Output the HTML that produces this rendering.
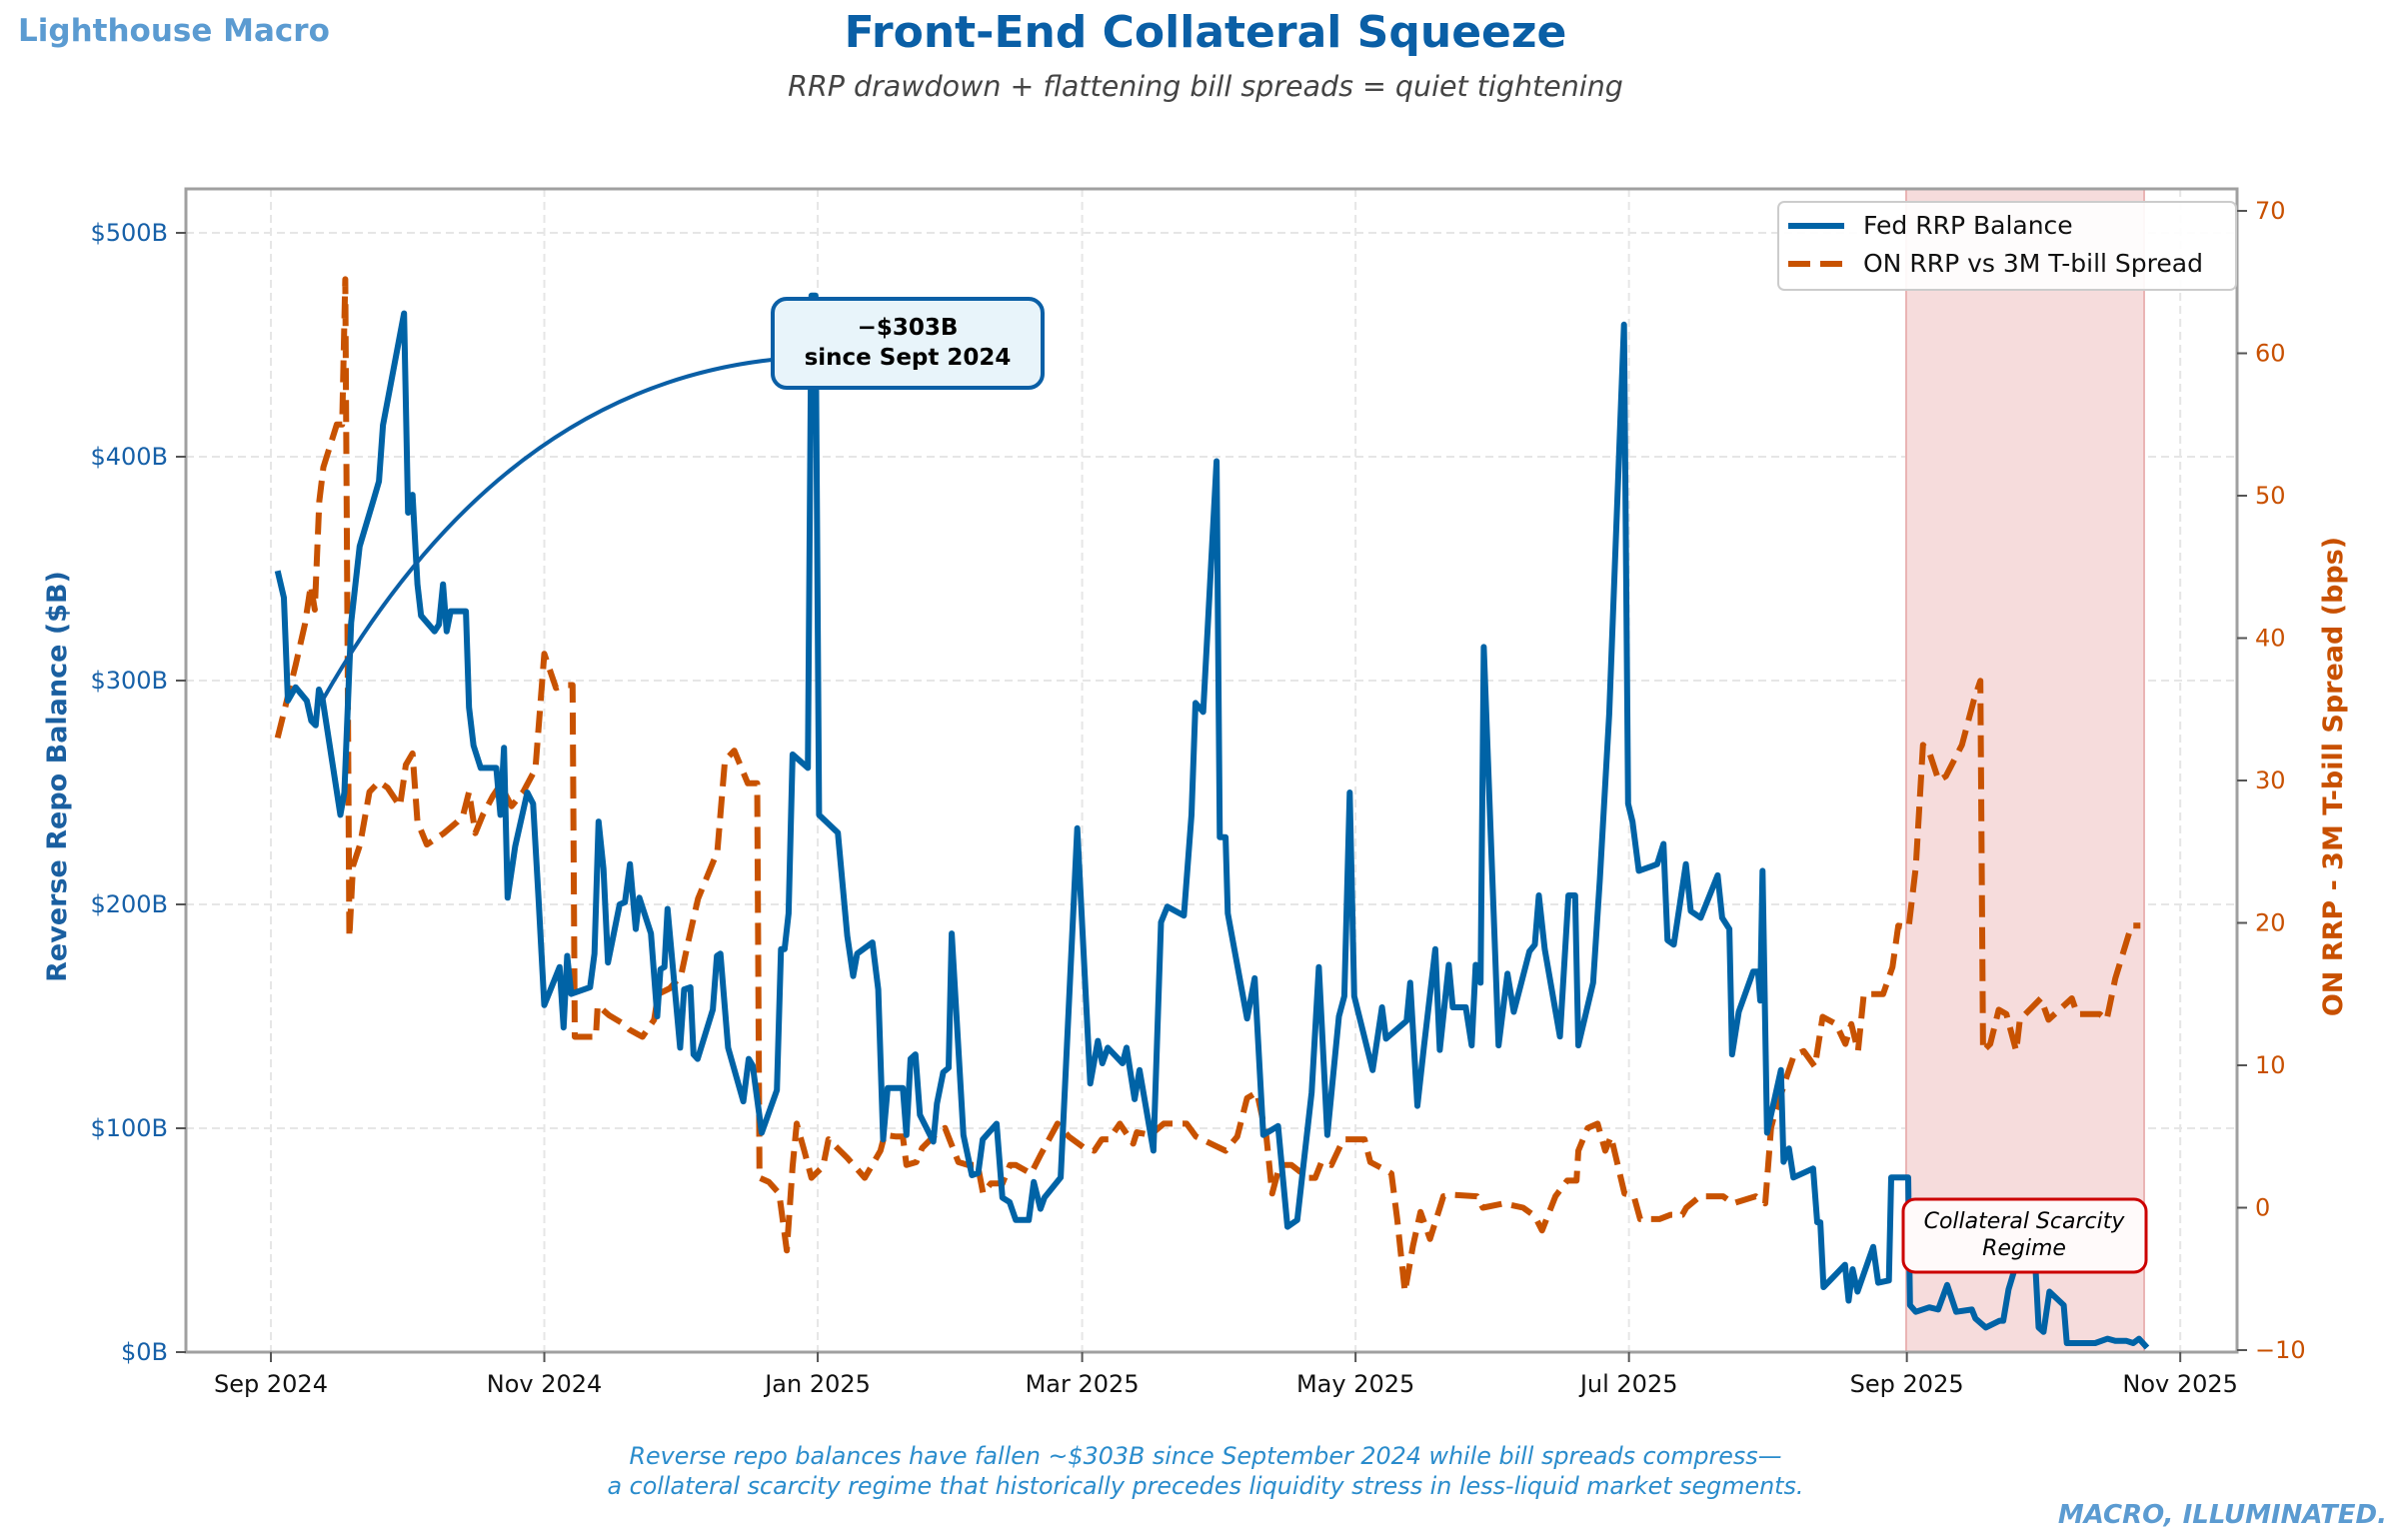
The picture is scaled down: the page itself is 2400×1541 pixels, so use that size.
<!DOCTYPE html>
<html>
<head>
<meta charset="utf-8">
<style>
html,body{margin:0;padding:0;background:#fff;}
svg{display:block;font-family:"DejaVu Sans","Liberation Sans",sans-serif;}
</style>
</head>
<body>
<svg id="chart" width="2400" height="1541" viewBox="0 0 2400 1541" xmlns="http://www.w3.org/2000/svg">
  <rect x="0" y="0" width="2400" height="1541" fill="#ffffff"/>
  <text x="18" y="41" font-size="31" font-weight="bold" fill="#5b9bd1">Lighthouse Macro</text>
  <text x="1206" y="47" font-size="44" font-weight="bold" fill="#0a5fa6" text-anchor="middle">Front-End Collateral Squeeze</text>
  <text x="1206" y="96" font-size="28.5" font-style="italic" fill="#444444" text-anchor="middle">RRP drawdown + flattening bill spreads = quiet tightening</text>

  <g id="grid"></g>
  <rect x="1907" y="189" width="238" height="1164" fill="#f6dcdc" stroke="#eab4b4" stroke-width="2"/>
  <g id="series"></g>

  <rect x="186" y="189" width="2052" height="1164" fill="none" stroke="#a0a0a0" stroke-width="3"/>
  <g id="axes"></g>

  <text transform="translate(66,777) rotate(-90)" font-size="27" font-weight="bold" fill="#1a5fa0" text-anchor="middle">Reverse Repo Balance ($B)</text>
  <text transform="translate(2343,777) rotate(-90)" font-size="27" font-weight="bold" fill="#c85000" text-anchor="middle">ON RRP - 3M T-bill Spread (bps)</text>

  <path d="M 772 360 Q 500 390 323 700" fill="none" stroke="#0a5fa6" stroke-width="4"/>
  <g>
    <rect x="773" y="299" width="270" height="89" rx="14" fill="#e8f4fa" stroke="#0a5fa6" stroke-width="4"/>
    <text x="908" y="335" font-size="23" font-weight="bold" fill="#000" text-anchor="middle">−$303B</text>
    <text x="908" y="365" font-size="23" font-weight="bold" fill="#000" text-anchor="middle">since Sept 2024</text>
  </g>
  <g>
    <rect x="1904" y="1200" width="243" height="73" rx="12" fill="#fffafa" stroke="#cc0000" stroke-width="3"/>
    <text x="2025" y="1229" font-size="22" font-style="italic" fill="#000" text-anchor="middle">Collateral Scarcity</text>
    <text x="2025" y="1256" font-size="22" font-style="italic" fill="#000" text-anchor="middle">Regime</text>
  </g>

  <g>
    <rect x="1779" y="202" width="458" height="88" rx="6" fill="#ffffff" fill-opacity="0.9" stroke="#cccccc" stroke-width="2"/>
    <line x1="1789" y1="226" x2="1845" y2="226" stroke="#0063a6" stroke-width="6"/>
    <text x="1864" y="234" font-size="25" fill="#111">Fed RRP Balance</text>
    <line x1="1789" y1="264" x2="1845" y2="264" stroke="#c85200" stroke-width="6" stroke-dasharray="22,10"/>
    <text x="1864" y="272" font-size="25" fill="#111">ON RRP vs 3M T-bill Spread</text>
  </g>

  <text x="1206" y="1465" font-size="23.8" font-style="italic" fill="#2a8ccc" text-anchor="middle">Reverse repo balances have fallen ~$303B since September 2024 while bill spreads compress—</text>
  <text x="1206" y="1495" font-size="23.8" font-style="italic" fill="#2a8ccc" text-anchor="middle">a collateral scarcity regime that historically precedes liquidity stress in less-liquid market segments.</text>
  <text x="2388" y="1524" font-size="26" font-weight="bold" font-style="italic" fill="#5b9bd1" text-anchor="end">MACRO, ILLUMINATED.</text>
</svg>
<script>
// Days since 2024-09-01
const rrpDays = [1.5,2.9,3.8,5.5,8,9,10,10.7,11.5,15.5,16.4,17.9,19.8,22.8,24.1,25,29.7,30.6,31.6,32.7,33.5,36.5,37.5,38.4,39.2,40.1,43.5,44.2,45.2,46.8,50.3,51.2,52,52.8,54.5,57.2,58.5,59.7,61,64.4,65.3,66.1,67,71.2,72.2,73.1,74.2,75.2,77.8,79,80.1,81.4,82.2,84.8,86.2,86.9,87.8,88.5,91.3,92.2,93.6,94.3,95.2,98.6,99.5,100.3,102,105.4,106.6,107.5,109.5,112.9,113.8,114.6,115.5,116.4,119.8,120.6,121.5,122.3,126.5,128.6,129.9,130.8,134.2,135.5,136.6,137.6,141,141.8,142.7,143.8,144.8,147.8,148.6,150,151.2,151.9,154.5,156.4,157.8,158.8,161.9,163.2,164.8,166.2,169.1,170.2,171.7,172.6,176.2,177.3,179.9,182.8,184.5,185.5,186.7,190,190.9,192.7,193.8,196.9,198.6,200,203.7,205.4,206.3,208,211,211.7,213,213.5,217.8,219.5,221.4,224.7,226.8,229,232.2,233.8,235.7,238.3,239.5,240.7,241.7,245.8,247.9,248.8,253.4,254.2,255.8,257.3,259.8,260.8,262.8,263.7,266.6,267.9,268.8,269.9,270.6,273.9,275.9,277.3,280.8,282,282.9,284.2,287.6,289.5,291,291.7,295,296.5,298.6,301.9,302.8,303.8,305.2,308,309.3,310.7,311.6,313,315.7,316.8,319,322.8,323.8,325.4,326,327.5,330.7,331.8,332.3,332.8,333.8,336.9,337.5,338.7,339.7,344.1,345,345.7,346.4,351.2,352,352.9,354,357.5,358.6,361,361.5,365.3,365.7,367,370,372,374,376,379.5,380.3,382.6,385.7,386.5,387.7,389.5,392.5,393.5,394.4,395.5,396.8,400,400.7,407,409.8,411.5,414,415.5,416.8,418.6];
const rrpValues = [349,337,291,297,291,282,280,296,292,240,250,326,360,380,389,414,464,375,383,343,329,322,325,343,322,331,331,288,271,261,261,240,270,203,226,250,245,203,155,172,145,177,160,163,178,237,216,174,200,201,218,189,203,187,150,171,172,198,136,162,163,133,131,153,177,178,136,112,131,128,98,117,180,180,196,267,261,472,472,240,232,186,168,178,183,162,95,118,118,97,131,133,106,94,111,125,127,187,97,79,80,95,102,69,67,59,59,76,64,69,78,124,234,120,139,129,136,129,136,113,126,90,192,199,195,240,290,286,398,230,230,196,149,167,97,101,56,59,116,172,97,150,159,250,159,126,154,140,148,165,110,137,180,135,173,154,154,137,173,165,315,137,169,152,179,182,204,180,141,204,204,137,165,211,285,459,245,237,215,217,218,227,184,182,218,197,194,213,194,189,133,152,170,170,157,215,98,126,85,91,78,82,58,58,29,39,23,37,27,47,31,32,78,78,21,18,20,19,30,18,19,15,11,14,14,28,40,58,45,11,9,27,21,4,4,6,5,5,4,6,2];
const spreadDays = [1.5,3.4,5.5,7.6,8.9,9.8,10.8,11.7,14.7,15.9,16.6,17.5,18.3,19.9,22,24.1,26,28.8,30.1,31.6,32.7,34.8,38.6,41.6,42.9,44.2,45.6,47.3,49.5,51.2,53.7,56.3,59,61,63.6,65.7,67.3,67.8,72.5,72.9,75.5,78.7,80,82.9,85.5,86.4,89,91.5,93.2,95.3,99.6,101.3,103.4,106.4,108.5,109,111.1,113.4,115.1,116.4,117.3,119,120.6,123.2,124.4,128.6,132.5,136,136.9,139.5,141,141.8,144,145.3,148.2,150.4,153.4,155.5,157.7,158.9,160.6,163.2,164.9,166.2,169.6,171.7,175.5,178,181.5,183.7,185.4,187,189.4,192.4,193.2,196.2,199.2,204.3,206.4,213,215.6,217.8,220,222.1,223.4,225.1,227.7,231.4,233,234.4,236.6,239.3,244,245.3,248.3,250,251.3,253,254.8,256.5,258.6,261.6,263.8,269.1,270.4,275.1,279.4,282,283.6,286.6,289.2,291.3,291.7,293.8,296,297.7,299,302,304.1,305.5,309.8,312.3,314.9,315.8,318.9,324,326.2,331.3,333.4,334.7,335.5,338.1,339.8,342,344.5,346.2,349.2,351.3,352.6,354.1,355.4,359.7,361.8,363.1,365.4,367,368.6,370.1,372.1,373.7,377.3,380,381.4,382,383.6,385.5,387.2,389.4,390.2,394.9,396.6,401.8,403,408,409.6,411.5,415.1,417.1];
const spreadValues = [33,35.4,38.1,41,43.7,42,49.6,52,55,55,65.2,19,24,25.5,29.2,29.9,29.5,28.2,31.1,31.9,27.1,25.5,26.3,27.1,27.6,29.2,26.3,27.6,28.9,29.7,28.2,29.2,30.8,38.9,36.5,36.7,36.7,12,12,14.2,13.5,12.9,12.5,12,13.2,15,15.4,16.3,18.8,21.7,25,31.4,32.1,29.8,29.8,2.1,1.8,1,-3,2.9,5.9,4,2.1,2.9,4.8,3.5,2.1,4,5.1,5,5,3,3.2,4.2,5.1,5.6,3.2,3,3,1,1.7,1.7,3,3,2.4,3.7,5.9,5,4.2,4,4.8,4.8,5.9,4.5,5.3,5.1,5.9,5.9,5,4,5,7.7,8.1,5,1,3,3,2.1,2.1,3.2,3,4.8,4.8,3.2,2.7,2.4,-0.8,-5.9,-2.7,-0.3,-2.2,0.8,0.9,0.8,0,0.3,0,-0.6,-1.6,0.8,1.9,1.9,4,5.6,5.9,4,5,1,0.8,-0.8,-0.8,-0.5,-0.5,0,0.8,0.8,0.3,0.8,0.3,5.6,6.6,9.1,10.7,11,9.9,13.4,12.9,11.5,12.9,11,15,15,16.9,19.8,19.7,23.9,32.5,31.9,30,30.3,32.5,35.7,37,11,11.5,13.9,13.6,11,13.2,14.7,13.2,14.7,13.6,13.6,13.2,16.1,19.8,19.8];
const xTickDays = [0,61,122,181,242,303,365,426];
const xTickLabels = ["Sep 2024","Nov 2024","Jan 2025","Mar 2025","May 2025","Jul 2025","Sep 2025","Nov 2025"];
const leftTickValues = [0,100,200,300,400,500];
const leftTickLabels = ["$0B","$100B","$200B","$300B","$400B","$500B"];
const rightTickValues = [-10,0,10,20,30,40,50,60,70];
const rightTickLabels = ["\u221210","0","10","20","30","40","50","60","70"];

const NS = "http://www.w3.org/2000/svg";
const PL = 186, PR = 2238, PT = 189, PB = 1353;
function xScale(d){ return 271 + 4.484 * d; }
function yLeft(v){ return 1353 - 2.24 * v; }
function yRight(v){ return 1208.5 - 14.25 * v; }
function mk(tag, attrs, parent){
  const el = document.createElementNS(NS, tag);
  for (const k in attrs) el.setAttribute(k, attrs[k]);
  parent.appendChild(el);
  return el;
}
const grid = document.getElementById('grid');
const axes = document.getElementById('axes');
const series = document.getElementById('series');

leftTickValues.forEach((v, i) => {
  const y = yLeft(v);
  if (v > 0) {
    const g = mk('line', {x1: PL, x2: PR, y1: y, y2: y, stroke: '#e6e6e6', 'stroke-width': 2, 'stroke-dasharray': '8,5'}, grid);
    
    
  }
  const t = mk('line', {x1: PL - 10, x2: PL, y1: y, y2: y, stroke: '#555', 'stroke-width': 2}, axes);
  
  
  const lb = mk('text', {x: PL - 18, y: y + 8, 'font-size': 24, fill: '#1660a8', 'text-anchor': 'end'}, axes);
  lb.textContent = leftTickLabels[i];
  
  
});
rightTickValues.forEach((v, i) => {
  const y = yRight(v);
  const t = mk('line', {x1: PR, x2: PR + 10, y1: y, y2: y, stroke: '#555', 'stroke-width': 2}, axes);
  
  
  const lb = mk('text', {x: PR + 18, y: y + 8, 'font-size': 24, fill: '#c85000', 'text-anchor': 'start'}, axes);
  lb.textContent = rightTickLabels[i];
  
  
});
xTickDays.forEach((d, i) => {
  const x = xScale(d);
  const g = mk('line', {x1: x, x2: x, y1: PT, y2: PB, stroke: '#e6e6e6', 'stroke-width': 2, 'stroke-dasharray': '8,5'}, grid);
  
  
  const t = mk('line', {x1: x, x2: x, y1: PB, y2: PB + 10, stroke: '#555', 'stroke-width': 2}, axes);
  
  
  const lb = mk('text', {x: x, y: PB + 40, 'font-size': 24, fill: '#111', 'text-anchor': 'middle'}, axes);
  lb.textContent = xTickLabels[i];
  
  
});

let dS = '';
spreadDays.forEach((d, i) => { dS += (i ? 'L' : 'M') + xScale(d).toFixed(1) + ' ' + yRight(spreadValues[i]).toFixed(1) + ' '; });
const sp = mk('path', {d: dS, fill: 'none', stroke: '#c85200', 'stroke-width': 6, 'stroke-dasharray': '22,10', 'stroke-linejoin': 'round'}, series);



let dR = '';
rrpDays.forEach((d, i) => { dR += (i ? 'L' : 'M') + xScale(d).toFixed(1) + ' ' + yLeft(rrpValues[i]).toFixed(1) + ' '; });
const rp = mk('path', {d: dR, fill: 'none', stroke: '#0063a6', 'stroke-width': 6, 'stroke-linejoin': 'round'}, series);


</script>
</body>
</html>
